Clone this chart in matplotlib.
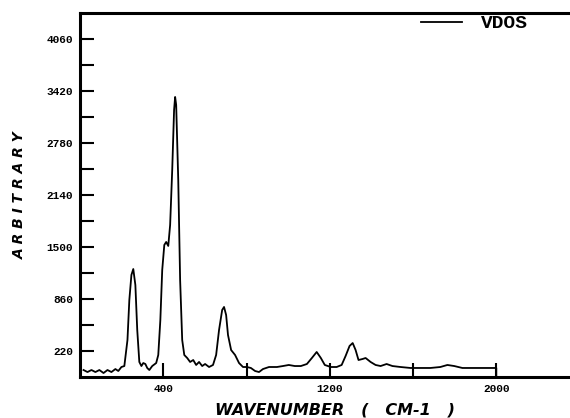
import numpy as np
from matplotlib import pyplot as plt

# vibrational density of states
wavenumber = [17, 36, 55, 74, 93, 113, 132, 151, 170, 184, 199, 213, 228, 237, 247,
              256, 266, 275, 285, 295, 304, 314, 323, 333, 347, 366, 376, 386, 395,
              405, 414, 424, 433, 443, 452, 457, 462, 472, 481, 491, 501, 515, 529,
              544, 558, 572, 587, 601, 620, 639, 654, 668, 683, 692, 702, 711, 726,
              745, 764, 783, 802, 821, 841, 860, 879, 908, 946, 975, 1003, 1032,
              1061, 1090, 1114, 1137, 1157, 1176, 1205, 1233, 1257, 1276, 1295,
              1310, 1324, 1338, 1358, 1372, 1396, 1420, 1444, 1473, 1501, 1540,
              1588, 1636, 1683, 1731, 1765, 1798, 1837, 1899, 2000, 2000]
vdos = [-14, -39, -14, -39, -14, -51, -14, -39, -2, -26, 23, 35, 355, 848, 1156,
        1229, 1032, 479, 85, 35, 72, 60, 11, -14, 35, 72, 171, 602, 1217,
        1525, 1562, 1513, 1771, 2448, 3187, 3347, 3249, 2325, 1094, 355, 171, 134, 85,
        109, 48, 85, 35, 60, 23, 48, 171, 479, 725, 762, 663, 417, 232,
        171, 72, 23, 23, 11, -26, -39, -2, 23, 23, 35, 48, 35,
        35, 60, 134, 208, 134, 48, 23, 23, 48, 159, 282,
        318, 232, 109, 122, 134, 85, 48, 35, 60, 35, 23,
        11, 11, 11, 23, 48, 35, 11, 11, 11, -100]

ytick_vals = [220, 860, 1500, 2140, 2780, 3420, 4060]
ytick_minor = [540, 1180, 1820, 2460, 3100, 3740]
xtick_vals = [400, 1200, 2000]
xtick_minor = [800, 1600]

fig = plt.figure(figsize=(5.7, 4.18), dpi=100)
ax = fig.add_axes([80 / 570, 41 / 418, 490 / 570, 364 / 418])
ax.plot(wavenumber, vdos, color='black', linewidth=1.3, label='VDOS')

ax.set_xlim(0, 2354)
ax.set_ylim(-100, 4380)
ax.set_xticks(xtick_vals)
ax.set_yticks(ytick_vals)
ax.set_yticks(ytick_minor, minor=True)
ax.set_xticks(xtick_minor, minor=True)

ax.spines['right'].set_visible(False)
for s in ['left', 'top', 'bottom']:
    ax.spines[s].set_linewidth(2.2)

ax.tick_params(axis='both', which='both', direction='in', width=1.5, length=10,
               labelsize=8)
ax.tick_params(axis='y', pad=5)
ax.tick_params(axis='x', pad=5)
ax.tick_params(right=False, top=False)
for lbl in ax.get_xticklabels() + ax.get_yticklabels():
    lbl.set_fontweight('bold')
    lbl.set_family('Liberation Mono')

ax.set_xlabel('WAVENUMBER   (   CM-1   )', fontsize=11.5, fontweight='bold',
              fontstyle='italic', labelpad=6)
ax.xaxis.set_label_coords(0.52, -0.07)
ax.set_ylabel('A R B I T R A R Y', fontsize=10, fontweight='bold',
              fontstyle='italic', labelpad=14)

ax.legend(loc='upper right', bbox_to_anchor=(0.915, 0.995), frameon=False,
          prop={'family': 'Liberation Mono', 'weight': 'bold', 'size': 14},
          handlelength=2.1, handletextpad=1.0, borderaxespad=0, borderpad=0)

plt.savefig('out.png', dpi=100)
